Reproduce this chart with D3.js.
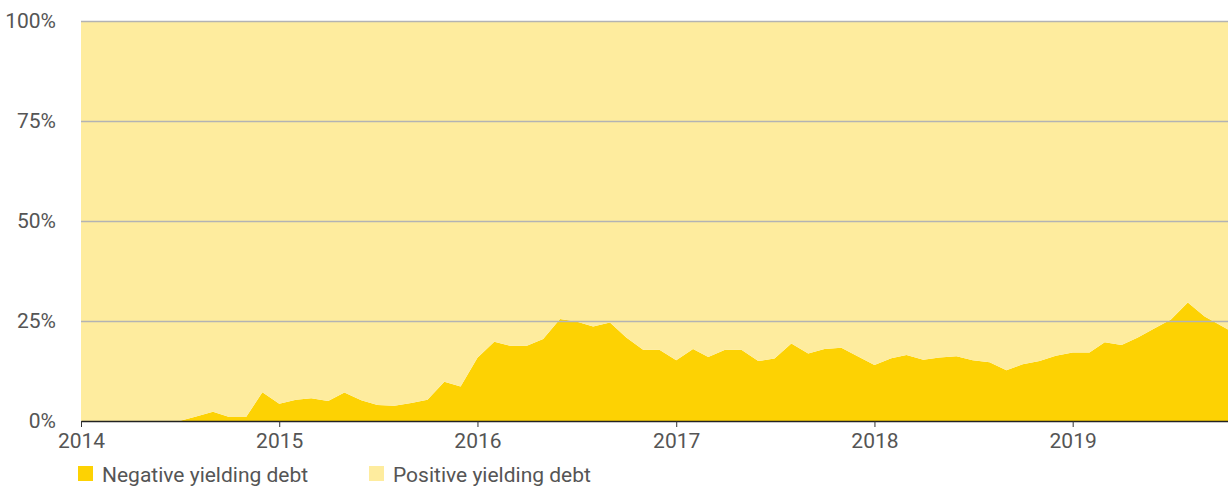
<!DOCTYPE html>
<html>
<head>
<meta charset="utf-8">
<script src="https://cdn.jsdelivr.net/npm/d3@7"></script>
<style>
  body { margin: 0; background: #fff; }
  text { font-family: Roboto, "Noto Sans", sans-serif; }
</style>
</head>
<body>
<div id="chart"></div>
<script>
// monthly share of negative yielding debt (%)
var months = [
  "2014-01","2014-02","2014-03","2014-04","2014-05","2014-06","2014-07","2014-08","2014-09","2014-10","2014-11","2014-12",
  "2015-01","2015-02","2015-03","2015-04","2015-05","2015-06","2015-07","2015-08","2015-09","2015-10","2015-11","2015-12",
  "2016-01","2016-02","2016-03","2016-04","2016-05","2016-06","2016-07","2016-08","2016-09","2016-10","2016-11","2016-12",
  "2017-01","2017-02","2017-03","2017-04","2017-05","2017-06","2017-07","2017-08","2017-09","2017-10","2017-11","2017-12",
  "2018-01","2018-02","2018-03","2018-04","2018-05","2018-06","2018-07","2018-08","2018-09","2018-10","2018-11","2018-12",
  "2019-01","2019-02","2019-03","2019-04","2019-05","2019-06","2019-07","2019-08","2019-09","2019-10-14"
];
var negative = [
  0, 0, 0, 0, 0, 0, 0, 1.1, 2.3, 1.0, 1.0, 7.2,
  4.3, 5.3, 5.7, 5.0, 7.1, 5.2, 4.0, 3.8, 4.5, 5.3, 9.8, 8.6,
  15.8, 19.8, 18.8, 18.8, 20.5, 25.5, 24.9, 23.6, 24.6, 20.9, 17.8, 17.8,
  15.2, 18.0, 16.0, 17.8, 17.8, 15.0, 15.6, 19.4, 16.9, 18.0, 18.3, 16.2,
  14.0, 15.7, 16.5, 15.3, 15.9, 16.2, 15.2, 14.7, 12.7, 14.2, 15.0, 16.3,
  17.1, 17.1, 19.7, 19.0, 20.9, 23.2, 25.4, 29.6, 26.1, 22.9
];
var seriesNames = ["Negative yielding debt", "Positive yielding debt"];
var colors = ["#fdd203", "#feec9e"];
var yTicks = [0, 25, 50, 75, 100];
var xTickYears = [2014, 2015, 2016, 2017, 2018, 2019];

var parseDate = function (s) {
  return s.length > 7 ? d3.timeParse("%Y-%m-%d")(s) : d3.timeParse("%Y-%m")(s);
};

var data = months.map(function (m, i) {
  return { date: parseDate(m), neg: negative[i], pos: 100 - negative[i] };
});

var margin = { top: 21, right: 0, bottom: 65, left: 81 },
    width = 1228 - margin.left - margin.right,
    height = 486 - margin.top - margin.bottom;

var svg = d3.select("#chart")
  .append("svg")
  .attr("width", width + margin.left + margin.right)
  .attr("height", height + margin.top + margin.bottom)
  .append("g")
  .attr("transform", "translate(" + margin.left + "," + margin.top + ")");

var x = d3.scaleTime()
  .domain([data[0].date, data[data.length - 1].date])
  .range([0, width]);

var y = d3.scaleLinear()
  .domain([0, 100])
  .range([height, 0]);

var stack = d3.stack().keys(["neg", "pos"]);
var layers = stack(data);

var area = d3.area()
  .x(function (d) { return x(d.data.date); })
  .y0(function (d) { return y(d[0]); })
  .y1(function (d) { return y(d[1]); });

svg.selectAll(".layer")
  .data(layers)
  .join("path")
  .attr("class", "layer")
  .attr("d", area)
  .style("fill", function (d, i) { return colors[i]; });

// gridlines on top of the areas
svg.append("g")
  .selectAll("line")
  .data(yTicks.filter(function (t) { return t > 0; }))
  .join("line")
  .attr("x1", 0)
  .attr("x2", width)
  .attr("y1", function (d) { return y(d) + 0.5; })
  .attr("y2", function (d) { return y(d) + 0.5; })
  .style("stroke", "#b3b3b3")
  .style("stroke-width", 1.5);

// Y axis labels
var yAxis = svg.append("g")
  .call(d3.axisLeft(y)
    .tickValues(yTicks)
    .tickSize(0)
    .tickPadding(25)
    .tickFormat(function (d) { return d + "%"; }));
yAxis.select(".domain").remove();
yAxis.selectAll("text")
  .style("font-size", "21px")
  .style("fill", "#555");

// X axis
var xAxis = svg.append("g")
  .attr("transform", "translate(0," + height + ")")
  .call(d3.axisBottom(x)
    .tickValues(xTickYears.map(function (yr) { return new Date(yr, 0, 1); }))
    .tickSize(6)
    .tickSizeOuter(0)
    .tickPadding(6)
    .tickFormat(d3.timeFormat("%Y")));
xAxis.select(".domain").style("stroke", "#222").style("stroke-width", 1.5);
xAxis.selectAll(".tick line").style("stroke", "#333");
xAxis.selectAll("text")
  .style("font-size", "21px")
  .style("fill", "#555");

// Legend
var legend = svg.append("g")
  .attr("transform", "translate(" + (-3) + "," + (height + 45) + ")");
var legendX = [0, 291];
seriesNames.forEach(function (name, i) {
  var g = legend.append("g").attr("transform", "translate(" + legendX[i] + ",0)");
  g.append("rect")
    .attr("width", 15)
    .attr("height", 15)
    .style("fill", colors[i]);
  g.append("text")
    .attr("x", 24)
    .attr("y", 8)
    .attr("dy", "0.36em")
    .style("font-size", "21px")
    .style("fill", "#555")
    .text(name);
});
</script>
</body>
</html>
